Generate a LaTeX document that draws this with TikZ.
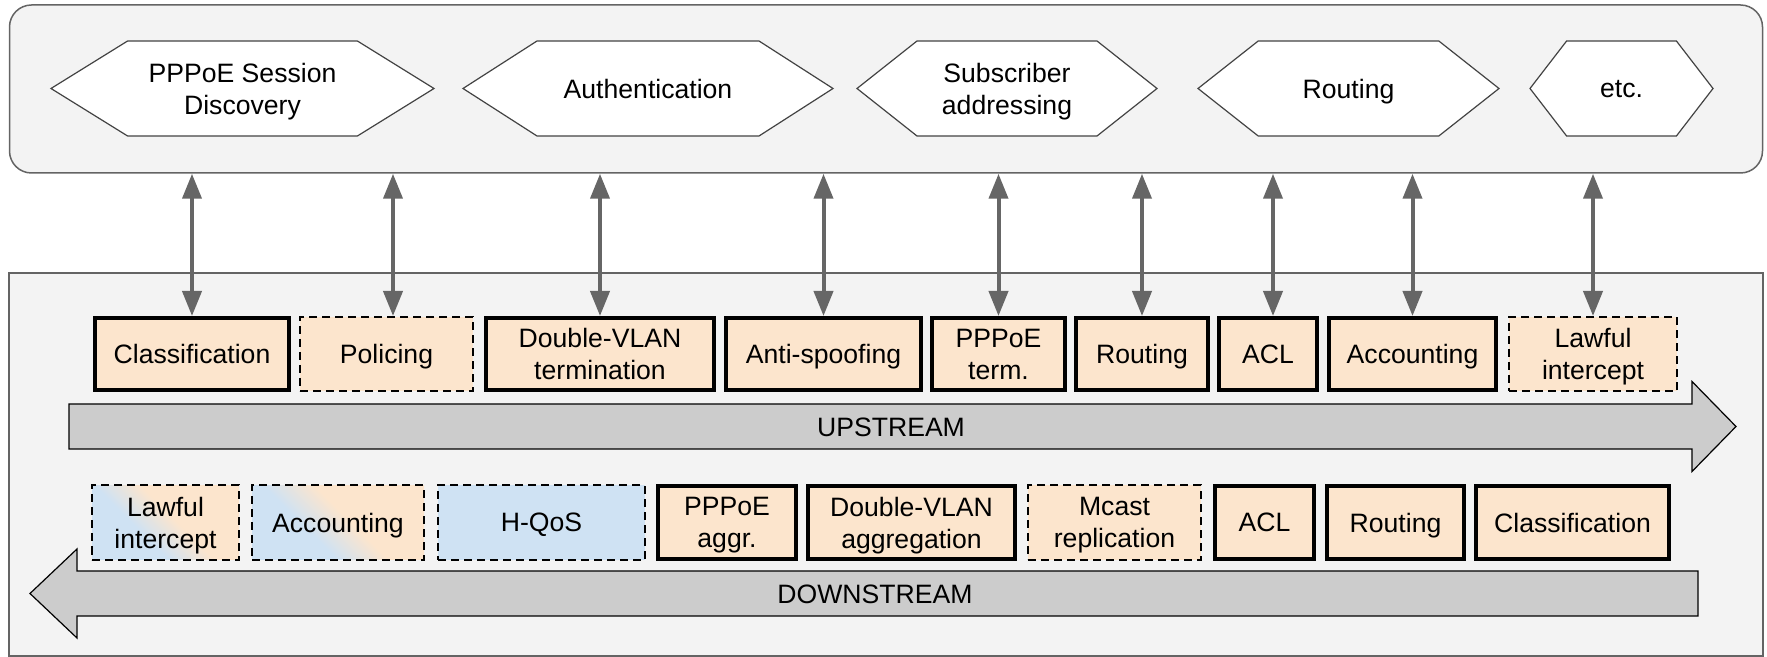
\documentclass[tikz,border=0pt]{standalone}
\usepackage{fontspec}
\setmainfont{Liberation Sans}
\usetikzlibrary{arrows.meta}

\definecolor{peach}{HTML}{FCE5CD}
\definecolor{qblue}{HTML}{CFE2F3}
\definecolor{panelbg}{HTML}{F3F3F3}
\definecolor{panelline}{HTML}{646464}
\definecolor{hexgrey}{HTML}{434343}
\definecolor{barg}{HTML}{CCCCCC}
\definecolor{conncol}{HTML}{666666}

% blue fading into peach, used for functions split between two units
\pgfdeclarehorizontalshading{bluepeach}{100bp}{color(0bp)=(qblue); color(39bp)=(qblue); color(54bp)=(peach); color(100bp)=(peach)}

\begin{document}
\begin{tikzpicture}[x=0.5pt,y=-0.5pt,
  txt/.style={font=\fontsize{13.3pt}{15.9pt}\selectfont, align=center, text=black, text depth=0pt},
  panel/.style={draw=panelline, line width=0.75pt, fill=panelbg, inner sep=0pt},
  hexline/.style={draw=hexgrey, line width=0.6pt, fill=white, line join=miter},
  fnsolid/.style={txt, draw=black, line width=2pt, fill=peach, inner sep=0pt, minimum height=36pt},
  fndash/.style={txt, draw=black, line width=1pt, dash pattern=on 4pt off 2.5pt, fill=peach, inner sep=0pt, minimum height=37pt},
  fnblue/.style={fndash, fill=qblue},
  fnmix/.style={txt, draw=black, line width=1pt, dash pattern=on 4pt off 2.5pt, shade, shading=bluepeach, shading angle=45, inner sep=0pt, minimum height=37pt},
  bar/.style={draw=black, line width=0.6pt, fill=barg},
  conn/.style={draw=conncol, line width=2pt, {Triangle[length=12.5pt,width=9.5pt]}-{Triangle[length=12.5pt,width=9.5pt]}}
]
\useasboundingbox (0,0) rectangle (1767,657);

% control-plane panel and data-plane panel
\node[panel, rounded corners=11pt, minimum width=876.5pt, minimum height=84pt] (ctrl) at (886,89) {};
\node[panel, minimum width=877pt, minimum height=191.5pt] (dp) at (886,464.5) {};

% control-plane functions as hexagons
\foreach \n/\l/\r/\t in {hxa/51/434/{PPPoE Session\\Discovery},
                         hxb/463/833/{Authentication},
                         hxc/857/1157/{Subscriber\\addressing},
                         hxd/1198/1499/{Routing},
                         hxe/1530/1713/{etc.}} {
  \pgfmathsetmacro\ins{0.2*(\r-\l)}
  \draw[hexline] (\l,88.5) -- (\l+\ins,41) -- (\r-\ins,41) -- (\r,88.5)
                 -- (\r-\ins,136) -- (\l+\ins,136) -- cycle;
  \node[txt] (\n) at ({(\l+\r)/2},88.5) {\t};
}

% upstream direction bar
\draw[bar] (69,404) -- (1692,404) -- (1692,381.5) -- (1736,426.5) -- (1692,471.5) -- (1692,449) -- (69,449) -- cycle;
\node[txt] (uplbl) at (891,427) {UPSTREAM};

% downstream direction bar
\draw[bar] (1698,571) -- (77,571) -- (77,549) -- (30,593.5) -- (77,638) -- (77,616) -- (1698,616) -- cycle;
\node[txt] (dnlbl) at (875,594) {DOWNSTREAM};

% upstream pipeline
\node[fnsolid, minimum width=97pt]   (ucls) at (192,354)    {Classification};
\node[fndash,  minimum width=86.5pt] (upol) at (386.5,354)  {Policing};
\node[fnsolid, minimum width=114pt]  (udvl) at (600,354)    {Double-VLAN\\termination};
\node[fnsolid, minimum width=97.5pt] (uasp) at (823.5,354)  {Anti-spoofing};
\node[fnsolid, minimum width=66.5pt] (uppp) at (998.5,354)  {PPPoE\\term.};
\node[fnsolid, minimum width=66pt]   (urt)  at (1142,354)   {Routing};
\node[fnsolid, minimum width=49pt]   (uacl) at (1268,354)   {ACL};
\node[fnsolid, minimum width=83.5pt] (uacc) at (1412.5,354) {Accounting};
\node[fndash,  minimum width=84pt]   (uli)  at (1593,354)   {Lawful\\intercept};

% downstream pipeline
\node[fnmix,   minimum width=73.5pt] (dli)  at (165.5,522.5)  {Lawful\\intercept};
\node[fnmix,   minimum width=86pt]   (dacc) at (338,522.5)    {Accounting};
\node[fnblue,  minimum width=103.5pt](dqos) at (541.5,522.5)  {H-QoS};
\node[fnsolid, minimum width=69pt]   (dppp) at (727,522.5)    {PPPoE\\aggr.};
\node[fnsolid, minimum width=103.5pt](ddvl) at (911.5,522.5)  {Double-VLAN\\aggregation};
\node[fndash,  minimum width=86.5pt] (dmc)  at (1114.5,522.5) {Mcast\\replication};
\node[fnsolid, minimum width=49.5pt] (dacl) at (1264.5,522.5) {ACL};
\node[fnsolid, minimum width=68.5pt] (drt)  at (1395.5,522.5) {Routing};
\node[fnsolid, minimum width=96.5pt] (dcls) at (1572.5,522.5) {Classification};

% control-plane interactions
\coordinate (upolc) at ([xshift=3.25pt]upol.north);
\coordinate (uaclc) at ([xshift=2.5pt]uacl.north);
\foreach \b in {ucls,udvl,uasp,uppp,urt,uacc,uli} {
  \draw[conn] (ctrl.south -| \b.north) -- (\b.north);
}
\draw[conn] (ctrl.south -| upolc) -- (upolc);
\draw[conn] (ctrl.south -| uaclc) -- (uaclc);
\end{tikzpicture}
\end{document}
